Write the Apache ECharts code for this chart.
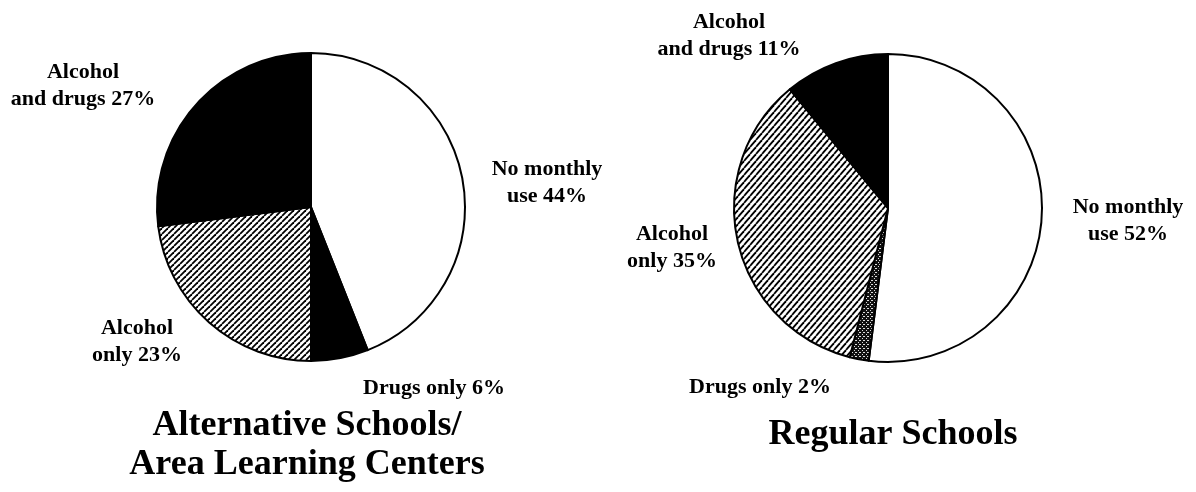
<!DOCTYPE html>
<html>
<head>
<meta charset="utf-8">
<script src="https://cdn.jsdelivr.net/npm/echarts@6/dist/echarts.min.js"></script>
<style>
html,body{margin:0;padding:0;background:#fff;}
#chart{width:1196px;height:492px;}
</style>
</head>
<body>
<div id="chart"></div>
<script>
// ---- data ----
const categories = ['No monthly\nuse', 'Drugs only', 'Alcohol\nonly', 'Alcohol\nand drugs'];
const altValues = [44, 6, 23, 27];
const regValues = [52, 2, 35, 11];
const altTitle = 'Alternative Schools/\nArea Learning Centers';
const regTitle = 'Regular Schools';

// ---- layout (positions, not data) ----
const altCenter = [311, 207];
const regCenter = [888, 208];
const pieRadius = 154;
const altLabelPos = [[547, 183], [434, 388], [137, 342], [83, 86]];
const regLabelPos = [[1128, 221], [760, 387], [672, 248], [729, 36]];
const altTitlePos = [307, 445];
const regTitlePos = [893, 435];

// ---- patterns ----
function hatch(w, h, lw) {
  const c = document.createElement('canvas');
  c.width = w; c.height = h;
  const ctx = c.getContext('2d');
  ctx.fillStyle = '#fff';
  ctx.fillRect(0, 0, w, h);
  ctx.strokeStyle = '#000';
  ctx.lineWidth = lw;
  for (let k = -1; k <= 1; k++) {
    ctx.beginPath();
    ctx.moveTo(k * w, h);
    ctx.lineTo(k * w + w, 0);
    ctx.stroke();
  }
  return c;
}
function stipple() {
  const c = document.createElement('canvas');
  c.width = 4; c.height = 4;
  const ctx = c.getContext('2d');
  ctx.fillStyle = '#111';
  ctx.fillRect(0, 0, 4, 4);
  ctx.fillStyle = '#ddd';
  ctx.fillRect(0, 0, 1, 1);
  ctx.fillRect(2, 2, 1, 1);
  ctx.fillRect(3, 0, 1, 1);
  return c;
}
const altHatch = { image: hatch(6, 6, 1.8), repeat: 'repeat' };
const regHatch = { image: hatch(6, 7, 1.8), repeat: 'repeat' };
const dots = { image: stipple(), repeat: 'repeat' };

const altFills = ['#ffffff', '#000000', altHatch, '#000000'];
const regFills = ['#ffffff', dots, regHatch, '#000000'];

const FONT = "'Liberation Serif', 'DejaVu Serif', serif";

function makeSeries(values, fills, center, labelPos) {
  return {
    type: 'pie',
    center: center,
    radius: pieRadius,
    startAngle: 90,
    clockwise: true,
    avoidLabelOverlap: false,
    silent: true,
    data: categories.map((n, i) => ({
      name: n,
      value: values[i],
      itemStyle: { color: fills[i] }
    })),
    itemStyle: { borderColor: '#000', borderWidth: 2 },
    label: {
      show: true,
      position: 'outside',
      formatter: p => p.name + ' ' + p.value + '%',
      color: '#000',
      fontFamily: FONT,
      fontWeight: 'bold',
      fontSize: 22,
      lineHeight: 27,
      align: 'center'
    },
    labelLine: { show: false },
    labelLayout: function (params) {
      const pos = labelPos[params.dataIndex];
      return { x: pos[0], y: pos[1], align: 'center', verticalAlign: 'middle' };
    },
    emphasis: { disabled: true }
  };
}

const chart = echarts.init(document.getElementById('chart'), null, { renderer: 'canvas' });
chart.setOption({
  backgroundColor: '#ffffff',
  animation: false,
  series: [
    makeSeries(altValues, altFills, altCenter, altLabelPos),
    makeSeries(regValues, regFills, regCenter, regLabelPos)
  ],
  graphic: [
    {
      type: 'text',
      x: altTitlePos[0], y: altTitlePos[1],
      style: {
        text: altTitle, fill: '#000', font: 'bold 36px ' + FONT,
        lineHeight: 39, align: 'center', verticalAlign: 'middle'
      }
    },
    {
      type: 'text',
      x: regTitlePos[0], y: regTitlePos[1],
      style: {
        text: regTitle, fill: '#000', font: 'bold 36px ' + FONT,
        lineHeight: 39, align: 'center', verticalAlign: 'middle'
      }
    }
  ]
});
</script>
</body>
</html>
